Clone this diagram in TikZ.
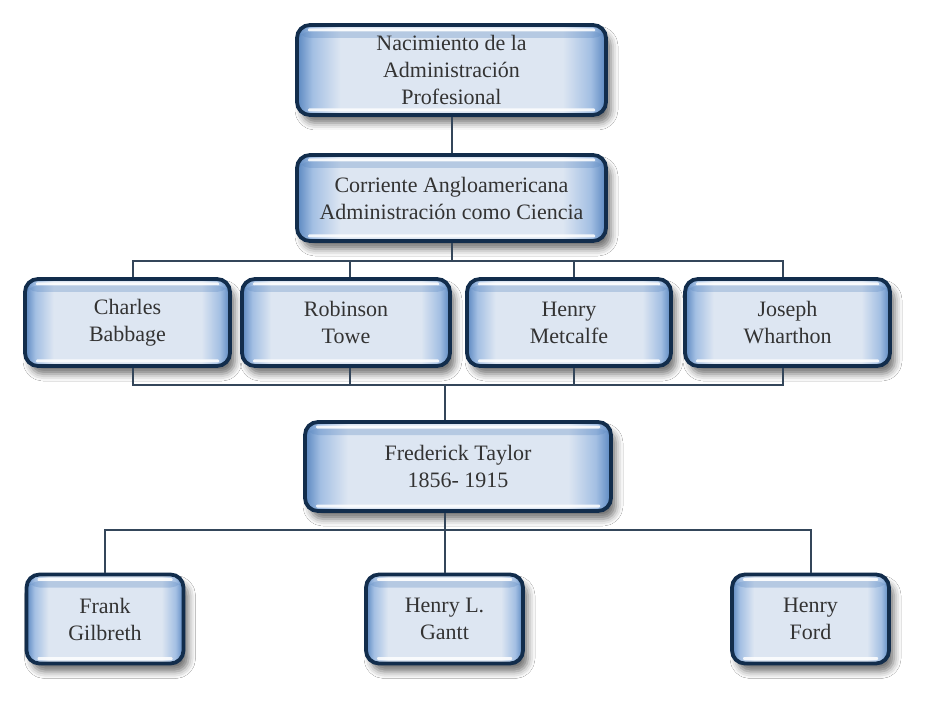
\documentclass[tikz,border=0pt]{standalone}
\usepackage{fontspec}
\setmainfont{Liberation Serif}
\usetikzlibrary{shadows.blur}
\definecolor{navy}{HTML}{122D4C}
\definecolor{edgeB}{HTML}{5A87C0}
\definecolor{midB}{HTML}{A3BFE3}
\definecolor{lightB}{HTML}{DDE6F2}
\definecolor{txt}{HTML}{333333}
\definecolor{conn}{HTML}{34465A}
\pgfdeclarehorizontalshading{boxshade}{100bp}{color(0bp)=(edgeB); color(25bp)=(edgeB); color(27.5bp)=(midB); color(32bp)=(lightB); color(68bp)=(lightB); color(72.5bp)=(midB); color(75bp)=(edgeB); color(100bp)=(edgeB)}
\tikzset{
  orgbox/.style={rounded corners=13pt, draw=navy, line width=3.8pt, shade, shading=boxshade,
    align=center, font=\fontsize{22}{27}\selectfont, text=txt, inner sep=0pt,
    blur shadow={shadow xshift=5pt, shadow yshift=-8pt, shadow blur radius=7pt, shadow opacity=55},
    path picture={
      \fill[white,opacity=.85,rounded corners=1pt] ([xshift=11pt,yshift=-3.5pt]path picture bounding box.north west) rectangle ([xshift=-11pt,yshift=-6.5pt]path picture bounding box.north east);
      \fill[white,opacity=.85,rounded corners=1pt] ([xshift=11pt,yshift=3.5pt]path picture bounding box.south west) rectangle ([xshift=-11pt,yshift=6.5pt]path picture bounding box.south east);
      \fill[edgeB,opacity=.3] ([yshift=-6.5pt]path picture bounding box.north west) rectangle ([yshift=-13pt]path picture bounding box.north east);
    }},
  link/.style={draw=conn, line width=2pt}
}
\begin{document}
\begin{tikzpicture}[x=1pt,y=-1pt]
\useasboundingbox[fill=white] (0,0) rectangle (926,708);
% nodes
\node[orgbox, minimum width=309pt, minimum height=90pt] (top) at (451.5,70) {Nacimiento de la\\Administración\\Profesional};
\node[orgbox, minimum width=309pt, minimum height=86pt] (ang) at (451.5,198) {Corriente Angloamericana\\Administración como Ciencia};
\node[orgbox, minimum width=205pt, minimum height=87pt] (cb) at (127.5,322.5) {Charles\\Babbage};
\node[orgbox, minimum width=208pt, minimum height=87pt] (rt) at (346,322.5) {Robinson\\Towe};
\node[orgbox, minimum width=204pt, minimum height=87pt] (hm) at (569,322.5) {Henry\\Metcalfe};
\node[orgbox, minimum width=205pt, minimum height=87pt] (jw) at (787.5,322.5) {Joseph\\Wharthon};
\node[orgbox, minimum width=306pt, minimum height=89pt] (ft) at (458,466.5) {Frederick Taylor\\1856- 1915};
\node[orgbox, minimum width=157pt, minimum height=89pt] (fg) at (105,619) {Frank\\Gilbreth};
\node[orgbox, minimum width=157pt, minimum height=89pt] (hg) at (444.5,619) {Henry L.\\Gantt};
\node[orgbox, minimum width=157pt, minimum height=89pt] (hf) at (810.5,619) {Henry\\Ford};
% coordinates
\coordinate (barA) at (451.5,261);
\coordinate (barB) at (445,385);
\coordinate (barC) at (445,530);
% connectors
\draw[link] (top.south) -- (ang.north);
\draw[link] (ang.south) -- (barA);
\draw[link] ([xshift=5.5pt]cb.north) -- ([xshift=5.5pt]cb.north |- barA) -- ([xshift=-4.5pt]jw.north |- barA) -- ([xshift=-4.5pt]jw.north);
\draw[link] ([xshift=4pt]rt.north) -- ([xshift=4pt]rt.north |- barA);
\draw[link] ([xshift=5pt]hm.north) -- ([xshift=5pt]hm.north |- barA);
\draw[link] ([xshift=5.5pt]cb.south) -- ([xshift=5.5pt]cb.south |- barB) -- ([xshift=-4.5pt]jw.south |- barB) -- ([xshift=-4.5pt]jw.south);
\draw[link] ([xshift=4pt]rt.south) -- ([xshift=4pt]rt.south |- barB);
\draw[link] ([xshift=5pt]hm.south) -- ([xshift=5pt]hm.south |- barB);
\draw[link] (barB) -- (barB |- ft.north);
\draw[link] (barC |- ft.south) -- (barC);
\draw[link] (fg.north) -- (fg.north |- barC) -- (hf.north |- barC) -- (hf.north);
\draw[link] (hg.north) -- (hg.north |- barC);
\end{tikzpicture}
\end{document}
